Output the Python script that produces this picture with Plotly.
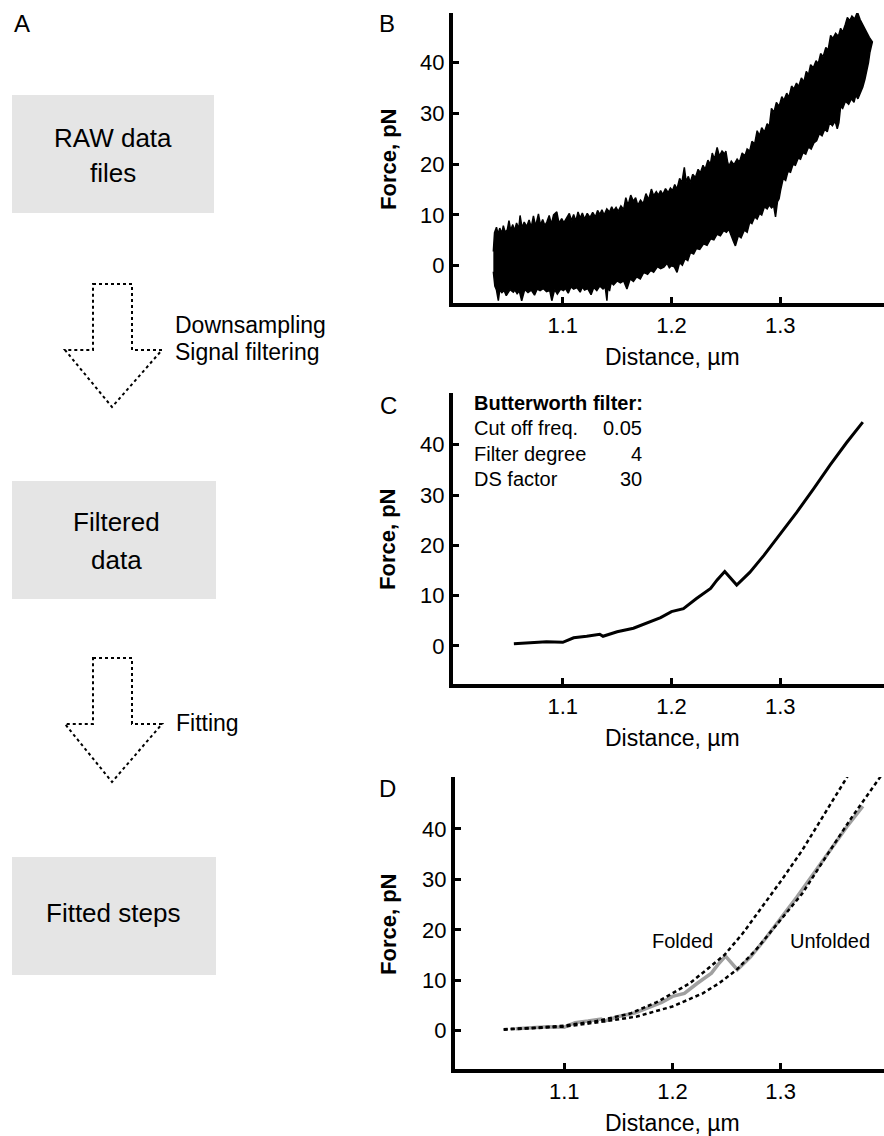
import plotly.graph_objects as go

W, H = 884, 1136
FONT = "Liberation Sans, Arial, sans-serif"

# ---------------- data ----------------
x_tick_vals = [1.1, 1.2, 1.3]
x_tick_text = ["1.1", "1.2", "1.3"]
y_tick_vals = [0, 10, 20, 30, 40]
y_tick_text = ["0", "10", "20", "30", "40"]

# Panel B: raw data band, upper envelope (left -> right, then down the right end)
raw_upper = [
    (1.0361, 2.8), (1.0372, 6.5), (1.0390, 7.6), (1.0405, 6.2), (1.0420, 7.4), (1.0440, 6.4),
    (1.0453, 7.9), (1.0470, 6.6), (1.0490, 7.1), (1.0505, 8.9), (1.0520, 7.0), (1.0540, 8.1),
    (1.0555, 6.9), (1.0575, 8.4), (1.0595, 7.3), (1.0607, 9.9), (1.0625, 7.5), (1.0645, 8.6),
    (1.0668, 7.7), (1.0690, 9.0), (1.0710, 7.6), (1.0730, 9.8), (1.0750, 7.8), (1.0776, 10.2),
    (1.0795, 8.0), (1.0815, 9.1), (1.0835, 7.9), (1.0853, 8.6), (1.0875, 9.9), (1.0895, 8.2),
    (1.0915, 10.0), (1.0945, 10.6), (1.0965, 8.4), (1.0990, 9.3), (1.1010, 8.5), (1.1037, 9.4),
    (1.1060, 10.3), (1.1080, 8.9), (1.1100, 10.1), (1.1120, 8.8), (1.1140, 10.6), (1.1160, 9.4),
    (1.1180, 10.4), (1.1200, 9.2), (1.1225, 10.3), (1.1250, 9.5), (1.1275, 10.5), (1.1300, 9.6),
    (1.1320, 10.9), (1.1340, 10.1), (1.1360, 11.0), (1.1380, 10.0), (1.1405, 11.2), (1.1430, 10.6),
    (1.1450, 11.6), (1.1467, 10.8), (1.1490, 11.5), (1.1510, 10.7), (1.1535, 11.8), (1.1560, 11.1),
    (1.1580, 13.4), (1.1600, 11.9), (1.1625, 13.9), (1.1650, 12.7), (1.1670, 13.4), (1.1690, 11.9),
    (1.1715, 12.9), (1.1740, 12.2), (1.1765, 14.2), (1.1790, 13.0), (1.1815, 15.1), (1.1836, 13.8),
    (1.1860, 14.6), (1.1880, 13.9), (1.1900, 14.8), (1.1920, 14.0), (1.1945, 15.2), (1.1970, 14.4),
    (1.1990, 15.3), (1.2010, 14.8), (1.2030, 16.0), (1.2050, 15.1), (1.2075, 17.2), (1.2095, 16.3),
    (1.2118, 19.4), (1.2135, 16.6), (1.2155, 17.6), (1.2173, 16.4), (1.2195, 18.0), (1.2220, 17.4),
    (1.2245, 19.0), (1.2266, 18.3), (1.2290, 19.8), (1.2310, 19.0), (1.2335, 20.8), (1.2358, 20.0),
    (1.2375, 22.2), (1.2395, 21.0), (1.2420, 23.3), (1.2440, 21.6), (1.2465, 22.6), (1.2490, 22.0),
    (1.2500, 22.6), (1.2515, 20.6), (1.2527, 19.6), (1.2550, 20.6), (1.2575, 19.9), (1.2604, 21.0),
    (1.2625, 20.4), (1.2650, 22.2), (1.2675, 21.6), (1.2696, 23.0), (1.2720, 22.6), (1.2740, 24.5),
    (1.2765, 24.0), (1.2788, 26.6), (1.2810, 25.6), (1.2830, 27.2), (1.2855, 26.3), (1.2880, 28.0),
    (1.2900, 27.4), (1.2920, 31.0), (1.2942, 30.2), (1.2965, 32.2), (1.2990, 31.4), (1.3015, 33.3),
    (1.3034, 32.6), (1.3060, 34.0), (1.3080, 33.2), (1.3105, 35.4), (1.3126, 34.8), (1.3150, 36.0),
    (1.3170, 35.3), (1.3195, 37.0), (1.3218, 36.2), (1.3240, 38.3), (1.3260, 37.6), (1.3280, 39.6),
    (1.3305, 39.0), (1.3330, 40.4), (1.3350, 39.8), (1.3372, 41.8), (1.3395, 41.2), (1.3420, 43.0),
    (1.3440, 42.4), (1.3464, 45.4), (1.3485, 44.8), (1.3510, 45.8), (1.3535, 45.2), (1.3556, 46.8),
    (1.3575, 46.0), (1.3600, 47.6), (1.3618, 48.9), (1.3640, 48.3), (1.3660, 49.2), (1.3685, 48.6),
    (1.3710, 50.0), (1.3735, 48.5), (1.3755, 47.6), (1.3771, 46.9), (1.3795, 45.8), (1.3820, 45.0),
    (1.3848, 44.1), (1.3825, 42.0), (1.3812, 40.0), (1.3800, 38.6), (1.3780, 36.8), (1.3760, 35.2),
    (1.3740, 34.3),
]
# lower envelope (right -> left)
raw_lower = [
    (1.3715, 32.9), (1.3695, 33.6), (1.3679, 32.2), (1.3655, 32.9), (1.3630, 31.8), (1.3600, 32.4),
    (1.3575, 31.0), (1.3556, 31.4), (1.3540, 28.2), (1.3525, 27.0), (1.3505, 28.5), (1.3480, 27.6),
    (1.3455, 28.2), (1.3433, 26.4), (1.3410, 26.9), (1.3385, 25.6), (1.3360, 26.0), (1.3335, 24.6),
    (1.3310, 24.2), (1.3285, 23.0), (1.3260, 23.4), (1.3235, 22.0), (1.3210, 22.3), (1.3187, 21.0),
    (1.3165, 21.2), (1.3140, 19.8), (1.3118, 20.0), (1.3095, 18.4), (1.3072, 18.6), (1.3050, 16.8),
    (1.3028, 17.2), (1.3003, 14.8), (1.2990, 13.2), (1.2975, 12.6), (1.2957, 9.6), (1.2940, 11.8),
    (1.2920, 11.4), (1.2900, 12.0), (1.2880, 11.2), (1.2855, 11.6), (1.2830, 10.0), (1.2810, 10.3),
    (1.2788, 9.2), (1.2765, 9.6), (1.2740, 8.3), (1.2720, 8.6), (1.2696, 6.6), (1.2670, 7.0),
    (1.2640, 5.5), (1.2615, 5.9), (1.2595, 4.2), (1.2588, 3.9), (1.2570, 4.8), (1.2555, 5.6),
    (1.2540, 6.6), (1.2527, 7.2), (1.2505, 6.6), (1.2480, 6.9), (1.2450, 5.9), (1.2420, 6.2),
    (1.2390, 5.1), (1.2360, 5.3), (1.2327, 4.0), (1.2295, 4.3), (1.2260, 3.2), (1.2230, 3.4),
    (1.2204, 2.3), (1.2175, 2.6), (1.2150, 1.0), (1.2125, 1.4), (1.2100, 0.1), (1.2075, 0.6),
    (1.2051, -1.3), (1.2025, -0.2), (1.2000, 0.0), (1.1980, -0.4), (1.1959, 0.5), (1.1930, -0.3),
    (1.1900, -0.6), (1.1870, -0.2), (1.1836, -1.3), (1.1810, -0.9), (1.1780, -1.7), (1.1745, -1.3),
    (1.1713, -2.6), (1.1680, -2.2), (1.1650, -3.1), (1.1620, -2.6), (1.1590, -4.6), (1.1560, -3.0),
    (1.1530, -3.4), (1.1500, -3.0), (1.1467, -3.8), (1.1445, -3.3), (1.1430, -5.0), (1.1415, -4.0),
    (1.1406, -6.9), (1.1390, -4.2), (1.1370, -4.6), (1.1340, -4.0), (1.1313, -4.9), (1.1285, -4.3),
    (1.1260, -5.7), (1.1230, -4.5), (1.1200, -4.8), (1.1180, -4.2), (1.1160, -5.2), (1.1130, -4.3),
    (1.1100, -4.6), (1.1075, -4.2), (1.1050, -5.4), (1.1025, -4.5), (1.1006, -4.9), (1.0980, -4.6),
    (1.0950, -5.6), (1.0925, -4.7), (1.0899, -6.9), (1.0880, -4.9), (1.0850, -5.1), (1.0820, -4.5),
    (1.0791, -4.9), (1.0765, -4.6), (1.0740, -5.8), (1.0710, -4.8), (1.0680, -5.3), (1.0650, -4.7),
    (1.0622, -6.9), (1.0600, -5.0), (1.0580, -5.5), (1.0560, -4.8), (1.0545, -5.2), (1.0515, -4.7),
    (1.0480, -5.9), (1.0460, -4.9), (1.0440, -5.3), (1.0420, -4.8), (1.0407, -6.9), (1.0390, -4.8),
    (1.0375, -4.0), (1.0361, -1.2),
]
raw_x = [p[0] for p in raw_upper] + [p[0] for p in raw_lower]
raw_y = [p[1] for p in raw_upper] + [p[1] for p in raw_lower]

# Panel C: filtered data
filt_x = [1.055, 1.070, 1.085, 1.100, 1.110, 1.122, 1.134, 1.137, 1.150, 1.165,
          1.177, 1.190, 1.200, 1.211, 1.223, 1.236, 1.242, 1.249, 1.260, 1.272,
          1.285, 1.300, 1.315, 1.331, 1.346, 1.361, 1.376]
filt_y = [0.4, 0.6, 0.8, 0.7, 1.6, 1.9, 2.3, 1.9, 2.8, 3.5,
          4.5, 5.6, 6.8, 7.4, 9.4, 11.4, 13.1, 14.8, 12.1, 14.6,
          18.0, 22.2, 26.5, 31.3, 36.0, 40.4, 44.5]

# Panel D: fitted curves
fold_x = [1.044, 1.075, 1.100, 1.130, 1.161, 1.185, 1.200, 1.216, 1.231, 1.248,
          1.265, 1.283, 1.300, 1.320, 1.338, 1.356, 1.372]
fold_y = [0.3, 0.6, 1.0, 1.9, 3.4, 5.6, 7.4, 9.4, 12.0, 15.0,
          19.3, 24.6, 29.6, 35.8, 42.1, 48.4, 54.0]
unfold_x = [1.044, 1.075, 1.100, 1.136, 1.167, 1.200, 1.228, 1.243, 1.259, 1.277,
            1.300, 1.320, 1.344, 1.366, 1.396]
unfold_y = [0.2, 0.5, 0.8, 1.8, 2.8, 4.8, 7.4, 9.4, 12.0, 16.0,
            22.0, 27.2, 35.2, 42.4, 51.5]

# ---------------- figure ----------------
def fx(p):
    return p / W

def fy(p):
    return 1 - p / H

fig = go.Figure()

fig.add_trace(go.Scatter(x=raw_x, y=raw_y, mode="lines", fill="toself", fillcolor="black",
                         line=dict(color="black", width=1.5), xaxis="x", yaxis="y",
                         hoverinfo="skip"))
fig.add_trace(go.Scatter(x=filt_x, y=filt_y, mode="lines",
                         line=dict(color="black", width=3), xaxis="x2", yaxis="y2"))
fig.add_trace(go.Scatter(x=filt_x, y=filt_y, mode="lines",
                         line=dict(color="#a0a0a0", width=3.5), xaxis="x3", yaxis="y3"))
fig.add_trace(go.Scatter(x=fold_x, y=fold_y, mode="lines",
                         line=dict(color="black", width=2.5, dash="4px,3px"),
                         xaxis="x3", yaxis="y3"))
fig.add_trace(go.Scatter(x=unfold_x, y=unfold_y, mode="lines",
                         line=dict(color="black", width=2.5, dash="4px,3px"),
                         xaxis="x3", yaxis="y3"))

axis_common = dict(showline=True, linewidth=4, linecolor="black", ticks="inside",
                   ticklen=6, tickwidth=3, tickcolor="black", showgrid=False,
                   zeroline=False, tickfont=dict(family=FONT, size=22, color="black"),
                   fixedrange=True)

xdom_bc = [fx(453), 1.0]
xdom_d = [fx(455), 1.0]
xrange_ = [0.999, 1.3955]

fig.update_layout(
    width=W, height=H, margin=dict(l=0, r=0, t=0, b=0),
    paper_bgcolor="white", plot_bgcolor="white", showlegend=False,
    font=dict(family=FONT, color="black"),
    xaxis=dict(axis_common, domain=xdom_bc, range=xrange_, anchor="y",
               tickvals=x_tick_vals, ticktext=x_tick_text, ticklabelstandoff=0),
    yaxis=dict(axis_common, domain=[fy(303), fy(13)], range=[-7.35, 49.8], anchor="x",
               tickvals=y_tick_vals, ticktext=y_tick_text),
    xaxis2=dict(axis_common, domain=xdom_bc, range=xrange_, anchor="y2",
                tickvals=x_tick_vals, ticktext=x_tick_text, ticklabelstandoff=0),
    yaxis2=dict(axis_common, domain=[fy(684), fy(393)], range=[-7.6, 50.3], anchor="x2",
                tickvals=y_tick_vals, ticktext=y_tick_text),
    xaxis3=dict(axis_common, domain=xdom_d, range=xrange_, anchor="y3",
                tickvals=x_tick_vals, ticktext=x_tick_text, ticklabelstandoff=0),
    yaxis3=dict(axis_common, domain=[fy(1069), fy(777)], range=[-7.6, 50.3], anchor="x3",
                tickvals=y_tick_vals, ticktext=y_tick_text),
)

annotations = []

def txt(text, x, y, size=22, xanchor="center", bold=False, angle=0):
    annotations.append(dict(text=("<b>%s</b>" % text) if bold else text,
                            x=fx(x), y=fy(y), xref="paper", yref="paper",
                            xanchor=xanchor, yanchor="middle", showarrow=False,
                            textangle=angle,
                            font=dict(family=FONT, size=size, color="black")))

# panel letters
txt("A", 22, 23, size=24)
txt("B", 387, 24, size=24)
txt("C", 388, 405, size=24)
txt("D", 387, 788, size=24)

# axis titles
for yc, xt_y in [(160, 357), (540, 738), (925, 1123)]:
    txt("Force, pN", 388, yc, size=22, bold=True, angle=-90)
    txt("Distance, µm", 672, xt_y, size=23)

# panel C parameter table
txt("Butterworth filter:", 472, 403, size=20, xanchor="left", bold=True)
for label, val, yy in [("Cut off freq.", "0.05", 428), ("Filter degree", "4", 454),
                       ("DS factor", "30", 479)]:
    txt(label, 472, yy, size=20, xanchor="left")
    txt(val, 644, yy, size=20, xanchor="right")

# panel D labels
txt("Folded", 682, 941, size=20)
txt("Unfolded", 830, 941, size=20)

# flowchart
box_color = "#e5e5e5"
shapes = []
for (x0, y0, x1, y1) in [(12, 95, 214, 213), (12, 481, 216, 599), (12, 857, 216, 975)]:
    shapes.append(dict(type="rect", xref="paper", yref="paper",
                       x0=fx(x0), x1=fx(x1), y0=fy(y1), y1=fy(y0),
                       fillcolor=box_color, line=dict(width=0), layer="below"))

txt("RAW data", 113, 138, size=26)
txt("files", 113, 173, size=26)
txt("Filtered", 116, 522, size=26)
txt("data", 116, 560, size=26)
txt("Fitted steps", 113, 913, size=26)

def arrow_path(top, wing, tip):
    pts = [(93, top), (132, top), (132, wing), (162, wing), (112, tip), (65, wing), (93, wing)]
    return "M " + " L ".join("%.5f,%.5f" % (fx(a), fy(b)) for a, b in pts) + " Z"

for top, wing, tip in [(284, 350, 407), (658, 724, 782)]:
    shapes.append(dict(type="path", xref="paper", yref="paper", path=arrow_path(top, wing, tip),
                       line=dict(color="black", width=2, dash="dot"), fillcolor="rgba(0,0,0,0)"))

txt("Downsampling", 173, 325, size=23, xanchor="left")
txt("Signal filtering", 173, 352, size=23, xanchor="left")
txt("Fitting", 174, 723, size=23, xanchor="left")

fig.update_layout(annotations=annotations, shapes=shapes)

fig.write_html("out.html")
